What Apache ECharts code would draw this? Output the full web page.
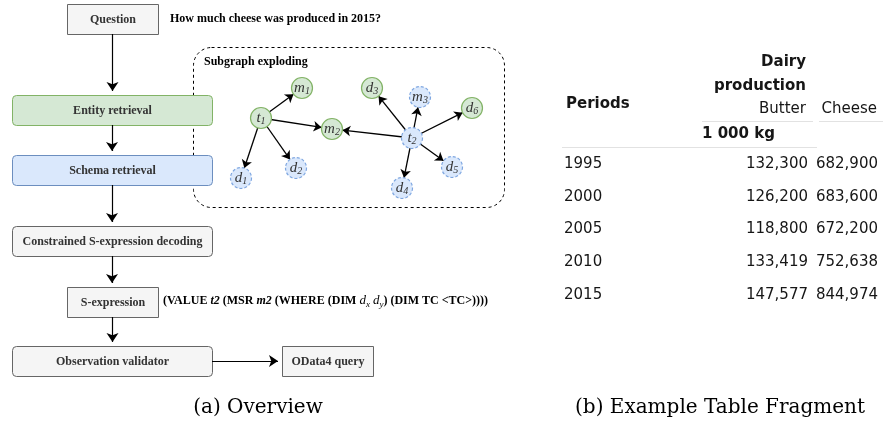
<!DOCTYPE html>
<html><head><meta charset="utf-8">
<script src="https://cdn.jsdelivr.net/npm/echarts@6/dist/echarts.min.js"></script>
<style>html,body{margin:0;padding:0;background:#fff}#c{width:883px;height:426px}</style>
</head><body><div id="c"></div>
<script>
// ---------------- DATA ----------------
const flowSteps = ['Question', 'Entity retrieval', 'Schema retrieval', 'Constrained S-expression decoding', 'S-expression', 'Observation validator', 'OData4 query'];
const stepKinds = ['plain', 'entity', 'schema', 'rounded', 'plain', 'rounded', 'plain'];
const flowLinks = [[0, 1], [1, 2], [2, 3], [3, 4], [4, 5], [5, 6]];
const questionText = 'How much cheese was produced in 2015?';
const sExpressionRich = '(VALUE {bi|t2} (MSR {bi|m2} (WHERE (DIM {i|d}{sub|x} {i|d}{sub|y}) (DIM TC <TC>))))';
const subgraphTitle = 'Subgraph exploding';
const nodeNames = ['t1', 'm1', 'm2', 'd1', 'd2', 't2', 'd3', 'm3', 'd6', 'd5', 'd4'];
const nodeKinds = ['found', 'found', 'found', 'cand', 'cand', 'cand', 'found', 'cand', 'found', 'cand', 'cand'];
const graphLinks = [['t1', 'm1'], ['t1', 'm2'], ['t1', 'd1'], ['t1', 'd2'], ['t2', 'm2'], ['t2', 'd3'], ['t2', 'm3'], ['t2', 'd6'], ['t2', 'd5'], ['t2', 'd4']];
const tableTitle = ['Dairy', 'production'];
const rowHeader = 'Periods';
const columns = ['Butter', 'Cheese'];
const unitLabel = '1 000 kg';
const periods = ['1995', '2000', '2005', '2010', '2015'];
const butter = [132300, 126200, 118800, 133419, 147577];
const cheese = [682900, 683600, 672200, 752638, 844974];
const captions = ['(a) Overview', '(b) Example Table Fragment'];

// ---------------- LAYOUT (positions, sizes, styles) ----------------
const BOX = [[67, 4, 91, 30], [12, 95, 200, 30], [12, 155, 200, 30], [12, 226, 200, 30], [67, 287, 91, 30], [12, 346, 200, 30], [282, 346, 91, 30]];
const NODE_POS = { t1: [261, 118], m1: [302, 88], m2: [332, 129], d1: [241, 178], d2: [296, 168], t2: [412, 138], d3: [372, 88], m3: [420, 97], d6: [472, 108], d5: [452, 167], d4: [402, 188] };
const STEP_STYLE = {
  plain: { fill: '#f5f5f5', stroke: '#666666', r: 0 },
  rounded: { fill: '#f5f5f5', stroke: '#666666', r: 4 },
  entity: { fill: '#d5e8d4', stroke: '#82b366', r: 4 },
  schema: { fill: '#dae8fc', stroke: '#6c8ebf', r: 4 }
};
const NODE_STYLE = {
  found: { color: '#d5e8d4', borderColor: '#82b366', borderType: 'solid' },
  cand: { color: '#dae8fc', borderColor: '#7ea6e0', borderType: [3, 2] }
};
const SERIF = '"Liberation Serif", "Times New Roman", serif';
const TSANS = '"DejaVu Sans", sans-serif';
const CAP = '"DejaVu Serif", serif';

function flowEdge(a, b) {
  const A = BOX[a], B = BOX[b];
  if (B[1] > A[1] + A[3] - 1) {
    const x = A[0] + A[2] / 2;
    return [[x, A[1] + A[3]], [x, B[1] - 4]];
  }
  const y = A[1] + A[3] / 2;
  return [[A[0] + A[2], y], [B[0] - 4, y]];
}

const chart = echarts.init(document.getElementById('c'), null, { renderer: 'canvas' });

// table graphic elements
const tbl = [];
const txt = (x, y, s, align, bold) => tbl.push({
  type: 'text', x: x, y: y, z: 10,
  style: { text: s, font: (bold ? 'bold ' : '') + '15px ' + TSANS, fill: '#161616', align: align, verticalAlign: 'middle' }
});
const hline = (x1, x2, y) => tbl.push({ type: 'line', z: 10, shape: { x1: x1, y1: y, x2: x2, y2: y }, style: { stroke: '#e2e2e2', lineWidth: 1 } });
txt(806, 62, tableTitle[0], 'right', true);
txt(806, 86, tableTitle[1], 'right', true);
txt(566, 104, rowHeader, 'left', true);
txt(806, 109, columns[0], 'right', false);
txt(877, 109, columns[1], 'right', false);
hline(702, 813, 121.5);
hline(819, 883, 121.5);
txt(702, 134, unitLabel, 'left', true);
hline(562, 817, 147.5);
periods.forEach((p, i) => {
  const y = 164 + 32.8 * i;
  txt(564, y, p, 'left', false);
  txt(808, y, butter[i].toLocaleString('en-US'), 'right', false);
  txt(878, y, cheese[i].toLocaleString('en-US'), 'right', false);
});

const option = {
  animation: false,
  backgroundColor: '#ffffff',
  grid: { left: 0, right: 0, top: 0, bottom: 0 },
  xAxis: { type: 'value', min: 0, max: 883, show: false },
  yAxis: { type: 'value', min: 0, max: 426, inverse: true, show: false },
  graphic: [
    { type: 'rect', z: 0, shape: { x: 193.5, y: 47.5, width: 311, height: 160, r: 18 }, style: { fill: 'none', stroke: '#000', lineWidth: 1, lineDash: [3, 3] } },
    { type: 'text', x: 204, y: 62, z: 5, style: { text: subgraphTitle, font: 'bold 12px ' + SERIF, fill: '#000', verticalAlign: 'middle' } },
    { type: 'text', x: 170, y: 19, z: 5, style: { text: questionText, font: 'bold 12px ' + SERIF, fill: '#000', verticalAlign: 'middle' } },
    {
      type: 'text', x: 163, y: 301, z: 5,
      style: {
        text: sExpressionRich, font: 'bold 12px ' + SERIF, fill: '#000', verticalAlign: 'middle',
        rich: {
          bi: { font: 'italic bold 12px ' + SERIF, fill: '#000', lineHeight: 16 },
          i: { font: 'italic 13px ' + SERIF, fill: '#000', lineHeight: 16 },
          sub: { font: 'italic 9px ' + SERIF, fill: '#000', lineHeight: 10, verticalAlign: 'bottom' }
        }
      }
    },
    { type: 'text', x: 258, y: 408, z: 5, style: { text: captions[0], font: '20px ' + CAP, fill: '#000', align: 'center', verticalAlign: 'middle' } },
    { type: 'text', x: 720, y: 408, z: 5, style: { text: captions[1], font: '20px ' + CAP, fill: '#000', align: 'center', verticalAlign: 'middle' } }
  ].concat(tbl),
  series: [
    {
      type: 'custom',
      coordinateSystem: 'cartesian2d',
      z: 3,
      data: flowSteps.map((s, i) => [i]),
      renderItem: function (params, api) {
        const i = api.value(0);
        const b = BOX[i];
        const p0 = api.coord([b[0], b[1]]);
        const p1 = api.coord([b[0] + b[2], b[1] + b[3]]);
        const st = STEP_STYLE[stepKinds[i]];
        return {
          type: 'rect',
          shape: { x: Math.round(p0[0]) + 0.5, y: Math.round(p0[1]) + 0.5, width: p1[0] - p0[0], height: p1[1] - p0[1], r: st.r },
          style: { fill: st.fill, stroke: st.stroke, lineWidth: 1 },
          textContent: { style: { text: flowSteps[i], font: 'bold 12px ' + SERIF, fill: '#333' } },
          textConfig: { position: 'inside' }
        };
      }
    },
    {
      type: 'lines',
      coordinateSystem: 'cartesian2d',
      z: 4,
      symbol: ['none', 'arrow'],
      symbolSize: 9,
      lineStyle: { color: '#000', width: 1.2, opacity: 1 },
      data: flowLinks.map(l => ({ coords: flowEdge(l[0], l[1]) }))
    },
    {
      type: 'graph',
      coordinateSystem: 'cartesian2d',
      layout: 'none',
      z: 5,
      symbol: 'circle',
      symbolSize: 21,
      edgeSymbol: ['none', 'arrow'],
      edgeSymbolSize: [0, 8],
      lineStyle: { color: '#000', width: 1.3, opacity: 1, curveness: 0 },
      label: {
        show: true, position: 'inside',
        formatter: p => '{v|' + p.name[0] + '}{s|' + p.name.slice(1) + '}',
        rich: {
          v: { fontFamily: SERIF, fontStyle: 'italic', fontSize: 15, color: '#333', lineHeight: 17 },
          s: { fontFamily: SERIF, fontStyle: 'italic', fontSize: 10, color: '#333', lineHeight: 11, verticalAlign: 'bottom' }
        }
      },
      emphasis: { disabled: true },
      data: nodeNames.map((n, i) => ({
        name: n,
        value: NODE_POS[n],
        itemStyle: Object.assign({ borderWidth: 1.2 }, NODE_STYLE[nodeKinds[i]])
      })),
      links: graphLinks.map(l => ({ source: l[0], target: l[1] }))
    }
  ]
};
chart.setOption(option);
</script>
</body></html>
